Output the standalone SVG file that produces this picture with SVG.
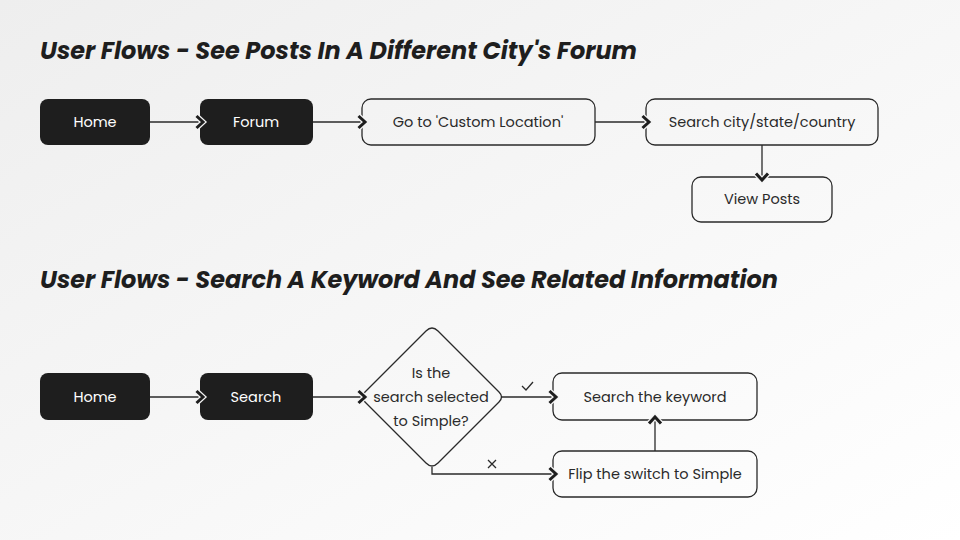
<svg xmlns="http://www.w3.org/2000/svg" width="960" height="540" viewBox="0 0 960 540">
<defs>
<linearGradient id="bg" x1="0" y1="0" x2="1" y2="1">
<stop offset="0" stop-color="#eeeeee"/>
<stop offset="1" stop-color="#ffffff"/>
</linearGradient>
<marker id="chev" viewBox="0 0 16 16" refX="11" refY="8" markerWidth="16" markerHeight="16" markerUnits="userSpaceOnUse" orient="auto">
<path d="M3.5,2 L10,8 L3.5,14" fill="none" stroke="#f4f4f4" stroke-width="5.5"/>
<path d="M3.5,2 L10,8 L3.5,14" fill="none" stroke="#1e1e1e" stroke-width="3"/>
</marker>
<style>
.title{font-family:Poppins,"Open Sans","Noto Sans",sans-serif;font-weight:700;font-style:italic;font-size:24px;fill:#1e1e1e}
.dark rect{fill:#1e1e1e}
.dark text{fill:#ffffff}
.light rect,.light path{fill:none;stroke:#2a2a2a;stroke-width:1.3}
.light text{fill:#2a2a2a}
text.n{font-family:Poppins,"Open Sans","Noto Sans",sans-serif;font-size:14.5px;text-anchor:middle;dominant-baseline:central}
.conn path{fill:none;stroke:#2a2a2a;stroke-width:1.3;marker-end:url(#chev)}
.lbl{fill:none;stroke:#2a2a2a;stroke-width:1.3}
</style>
</defs>
<rect width="960" height="540" fill="url(#bg)"/>
<text class="title" x="40" y="59" textLength="597" lengthAdjust="spacingAndGlyphs">User Flows - See Posts In A Different City's Forum</text>
<text class="title" x="40" y="288" textLength="738" lengthAdjust="spacingAndGlyphs">User Flows - Search A Keyword And See Related Information</text>

<g id="n-home1" class="dark"><rect x="40" y="99" width="110" height="46" rx="8"/><text class="n" x="95" y="122">Home</text></g>
<g id="n-forum" class="dark"><rect x="200" y="99" width="113" height="46" rx="8"/><text class="n" x="256" y="122">Forum</text></g>
<g id="n-custom" class="light"><rect x="362" y="99" width="233" height="46" rx="9"/><text class="n" x="478" y="122">Go to 'Custom Location'</text></g>
<g id="n-searchcity" class="light"><rect x="646" y="99" width="232" height="46" rx="9"/><text class="n" x="762" y="122">Search city/state/country</text></g>
<g id="n-viewposts" class="light"><rect x="692" y="177" width="140" height="45" rx="9"/><text class="n" x="762" y="199">View Posts</text></g>

<g id="n-home2" class="dark"><rect x="40" y="373" width="110" height="47" rx="8"/><text class="n" x="95" y="397">Home</text></g>
<g id="n-search" class="dark"><rect x="200" y="373" width="113" height="47" rx="8"/><text class="n" x="256" y="397">Search</text></g>
<g id="n-decision" class="light"><path d="M426,331 Q432,325 438,331 L499,392 Q504,397 499,402 L438,463 Q432,469 426,463 L365,402 Q360,397 365,392 Z"/><text class="n" x="431" y="373">Is the</text><text class="n" x="431" y="397">search selected</text><text class="n" x="431" y="421">to Simple?</text></g>
<g id="n-keyword" class="light"><rect x="553" y="373" width="204" height="47" rx="9"/><text class="n" x="655" y="397">Search the keyword</text></g>
<g id="n-flip" class="light"><rect x="553" y="451" width="204" height="46" rx="9"/><text class="n" x="655" y="474">Flip the switch to Simple</text></g>

<g class="conn">
<path d="M150,122 H204"/>
<path d="M313,122 H366"/>
<path d="M595,122 H650"/>
<path d="M762,145 V181"/>
<path d="M150,397 H204"/>
<path d="M313,397 H366"/>
<path d="M502,397 H557"/>
<path d="M432,467 V474 H557"/>
<path d="M655,451 V416"/>
</g>
<path class="lbl" d="M522,386 L526,390 L533,382"/>
<path class="lbl" d="M488,460 L496,468 M496,460 L488,468"/>
</svg>
